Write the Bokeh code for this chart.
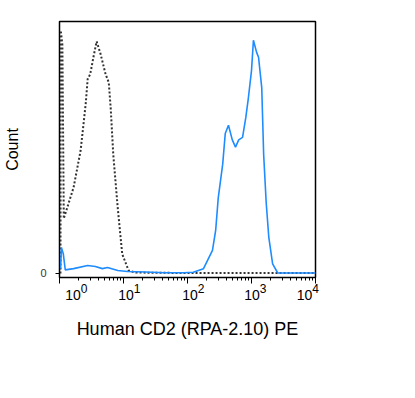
import math
from bokeh.plotting import figure
from bokeh.models import FixedTicker, Range1d, LinearAxis, CustomJSTickFormatter
from bokeh.embed import file_html
from bokeh.resources import INLINE

# x in decades (log10 of fluorescence), y in relative count
iso_x = [0.015, 0.02, 0.045, 0.067, 0.22, 0.33, 0.41, 0.44, 0.48, 0.53, 0.58,
         0.64, 0.72, 0.77, 0.80, 0.84, 0.91, 0.98, 1.08, 1.19, 1.5, 2.0, 2.5, 3.0, 3.5, 4.0]
iso_y = [0.0, 100.0, 94.0, 22.6, 35.4, 50.6, 70.0, 80.0, 82.0, 89.0, 95.5,
         90.5, 82.0, 78.6, 68.0, 49.0, 27.0, 8.0, 1.2, 0.4, 0.3, 0.2, 0.2, 0.2, 0.2, 0.2]

cd2_x = [0.016, 0.03, 0.06, 0.09, 0.22, 0.44, 0.56, 0.67, 0.75, 0.91, 1.06, 1.34, 1.64, 1.94,
         2.09, 2.25, 2.39, 2.44, 2.48, 2.55, 2.59, 2.64, 2.70, 2.75, 2.80, 2.86, 2.91,
         2.95, 3.00, 3.03, 3.08, 3.11, 3.16, 3.19, 3.23, 3.27, 3.33, 3.41, 3.7, 4.0]
cd2_y = [2.0, 10.7, 8.0, 1.5, 2.0, 3.3, 2.9, 2.0, 2.5, 1.2, 0.8, 0.6, 0.3, 0.3,
         0.5, 2.0, 9.5, 17.7, 31.0, 45.0, 57.6, 61.0, 55.0, 52.0, 55.0, 56.0, 64.0,
         72.0, 83.5, 96.0, 91.0, 89.0, 76.5, 49.0, 29.0, 15.0, 4.0, 0.2, 0.2, 0.2]

major_ticks = [0, 1, 2, 3, 4]
base_shift_px = [13.5, 2.5, 2.5, 0.5, -11.0]   # px shift of the "10" text from its tick
exp_shift_px = [24.5, 13.5, 13.5, 11.5, 0.0]   # px shift of the exponent from its tick

X0, X1, Y0, Y1 = 0.0, 4.0, -1.65, 103.7
PX_PER_DECADE = 64.0

minor_ticks = []
for d in range(4):
    for k in range(2, 10):
        minor_ticks.append(d + math.log10(k))

p = figure(width=399, height=382, output_backend="svg", toolbar_location=None,
           x_range=Range1d(X0, X1), y_range=Range1d(Y0, Y1), x_axis_location=None,
           min_border_left=59, min_border_right=84, min_border_top=21, min_border_bottom=105)

p.line(iso_x, iso_y, line_color="#333333", line_width=2, line_dash="2 2")
p.line(cd2_x, cd2_y, line_color="#1e8cff", line_width=1.6)

p.grid.visible = False
p.outline_line_color = "black"
p.outline_line_width = 1.5
p.background_fill_color = "white"
p.border_fill_color = "white"

# Axis A: line and ticks
xa = LinearAxis(ticker=FixedTicker(ticks=major_ticks, minor_ticks=minor_ticks))
xa.major_label_overrides = {t: "" for t in major_ticks}
xa.major_label_text_font_size = "1px"
xa.major_label_standoff = 0
xa.major_tick_out = 6
xa.major_tick_in = 0
xa.minor_tick_out = 3
xa.minor_tick_in = 0
xa.axis_line_color = "black"
xa.major_tick_line_color = "black"
xa.minor_tick_line_color = "black"
p.add_layout(xa, "below")

# Axis B: exponents
xb = LinearAxis(ticker=FixedTicker(ticks=[t + s / PX_PER_DECADE for t, s in zip(major_ticks, exp_shift_px)],
                                   minor_ticks=[]),
                formatter=CustomJSTickFormatter(code="return String(Math.floor(tick + 0.001));"))
xb.axis_line_color = None
xb.major_tick_line_color = None
xb.minor_tick_line_color = None
xb.major_tick_out = 0
xb.major_tick_in = 0
xb.major_label_standoff = 0
xb.major_label_text_font = "Liberation Sans"
xb.major_label_text_font_size = "12px"
xb.major_label_text_color = "black"
p.add_layout(xb, "below")

# Axis C: "10" bases and the axis title
xc = LinearAxis(ticker=FixedTicker(ticks=[t + s / PX_PER_DECADE for t, s in zip(major_ticks, base_shift_px)],
                                   minor_ticks=[]),
                formatter=CustomJSTickFormatter(code="return '10';"))
xc.axis_line_color = None
xc.major_tick_line_color = None
xc.minor_tick_line_color = None
xc.major_tick_out = 0
xc.major_tick_in = 0
xc.major_label_standoff = -6
xc.major_label_text_font = "Liberation Sans"
xc.major_label_text_font_size = "14px"
xc.major_label_text_color = "black"
xc.axis_label = "Human CD2 (RPA-2.10) PE"
xc.axis_label_text_font = "Liberation Sans"
xc.axis_label_text_font_style = "normal"
xc.axis_label_text_font_size = "18px"
xc.axis_label_text_color = "black"
xc.axis_label_standoff = 16
p.add_layout(xc, "below")

ya = p.yaxis[0]
ya.ticker = FixedTicker(ticks=[0], minor_ticks=[])
ya.major_label_text_font = "Liberation Sans"
ya.major_label_text_font_size = "11px"
ya.major_label_text_color = "#333333"
ya.major_label_standoff = 9
ya.major_tick_out = 4
ya.major_tick_in = 0
ya.axis_line_color = "black"
ya.major_tick_line_color = "black"
ya.axis_label = "Count"
ya.axis_label_text_font = "Liberation Sans"
ya.axis_label_text_font_style = "normal"
ya.axis_label_text_font_size = "16px"
ya.axis_label_text_color = "black"
ya.axis_label_standoff = 16

open("out.html", "w").write(file_html(p, INLINE))
